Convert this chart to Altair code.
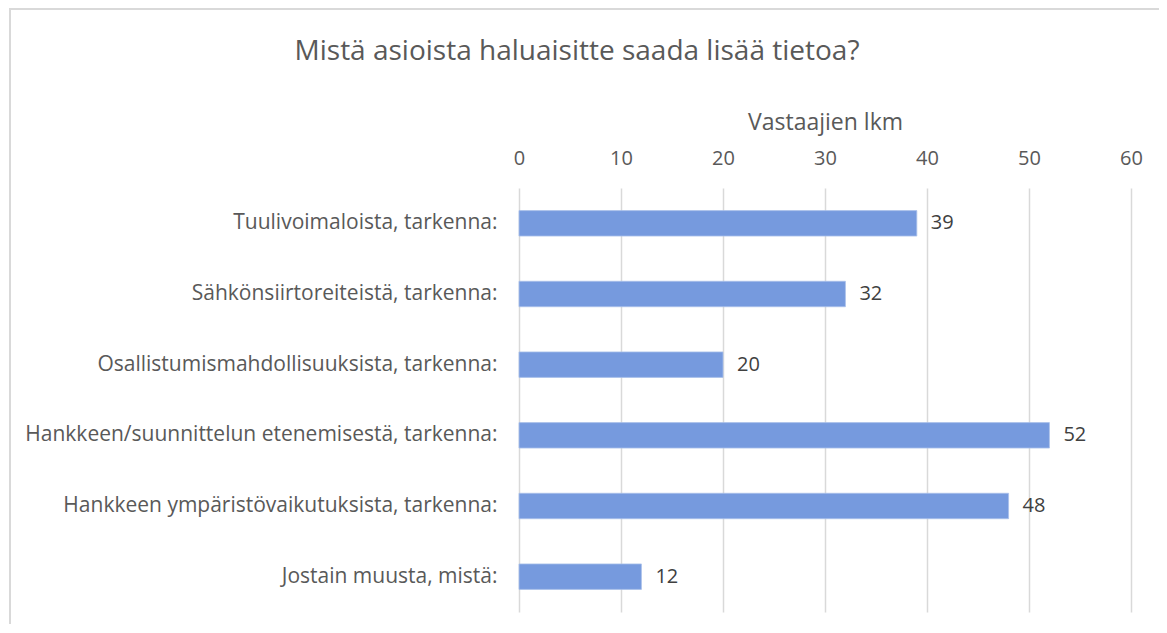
import altair as alt
import pandas as pd

categories = [
    "Tuulivoimaloista, tarkenna:",
    "Sähkönsiirtoreiteistä, tarkenna:",
    "Osallistumismahdollisuuksista, tarkenna:",
    "Hankkeen/suunnittelun etenemisestä, tarkenna:",
    "Hankkeen ympäristövaikutuksista, tarkenna:",
    "Jostain muusta, mistä:",
]
values = [39, 32, 20, 52, 48, 12]
x_ticks = [0, 10, 20, 30, 40, 50, 60]

df = pd.DataFrame({"kategoria": categories, "arvo": values})

FONT = "Open Sans"
W, H = 612, 424

y_enc = alt.Y("kategoria:N", sort=categories, title=None,
              scale=alt.Scale(paddingInner=0.64, paddingOuter=0.32),
              axis=alt.Axis(labelFont=FONT, labelFontSize=21, labelColor="#595959",
                            labelPadding=22, ticks=False, domain=False, labelLimit=700))
x_enc = alt.X("arvo:Q", scale=alt.Scale(domain=[0, 60]), title="Vastaajien lkm",
              axis=alt.Axis(orient="top", values=x_ticks, labelFont=FONT, labelFontSize=20,
                            labelColor="#595959", titleFont=FONT, titleFontSize=23,
                            titleFontWeight="normal", titleColor="#595959",
                            labelPadding=20, titlePadding=14, ticks=False, domain=False,
                            labelFlush=False,
                            grid=True, gridColor="#d9d9d9", gridWidth=1.5))

bars = alt.Chart(df).mark_bar(color="#769ADE", stroke="#A9C0EA", strokeWidth=0.8).encode(
    x=x_enc, y=y_enc
)
labels = alt.Chart(df).mark_text(align="left", dx=14, font=FONT, fontSize=20,
                                 color="#404040").encode(
    x="arvo:Q", y=alt.Y("kategoria:N", sort=categories), text="arvo:Q"
)

frame_df = pd.DataFrame({"a": ["frame"]})
frame = alt.Chart(frame_df).mark_rect(
    fill="transparent", stroke="#d9d9d9", strokeWidth=2
).encode(
    x=alt.value(-509), x2=alt.value(700), y=alt.value(-179), y2=alt.value(500),
    detail="a:N"
)

title = alt.Chart(pd.DataFrame({"t": ["Mistä asioista haluaisitte saada lisää tietoa?"]})).mark_text(
    font=FONT, fontSize=28, color="#595959", align="center", baseline="middle"
).encode(x=alt.value(58), y=alt.value(-136), text="t:N")

chart = alt.layer(frame, bars, labels, title).properties(
    width=W, height=H,
    autosize=alt.AutoSizeParams(type="none"),
    padding={"left": 511, "top": 180, "right": 28, "bottom": 12},
).configure(background="white").configure_view(stroke=None)

chart.save("out.html", embed_options={"renderer": "svg", "actions": False})
